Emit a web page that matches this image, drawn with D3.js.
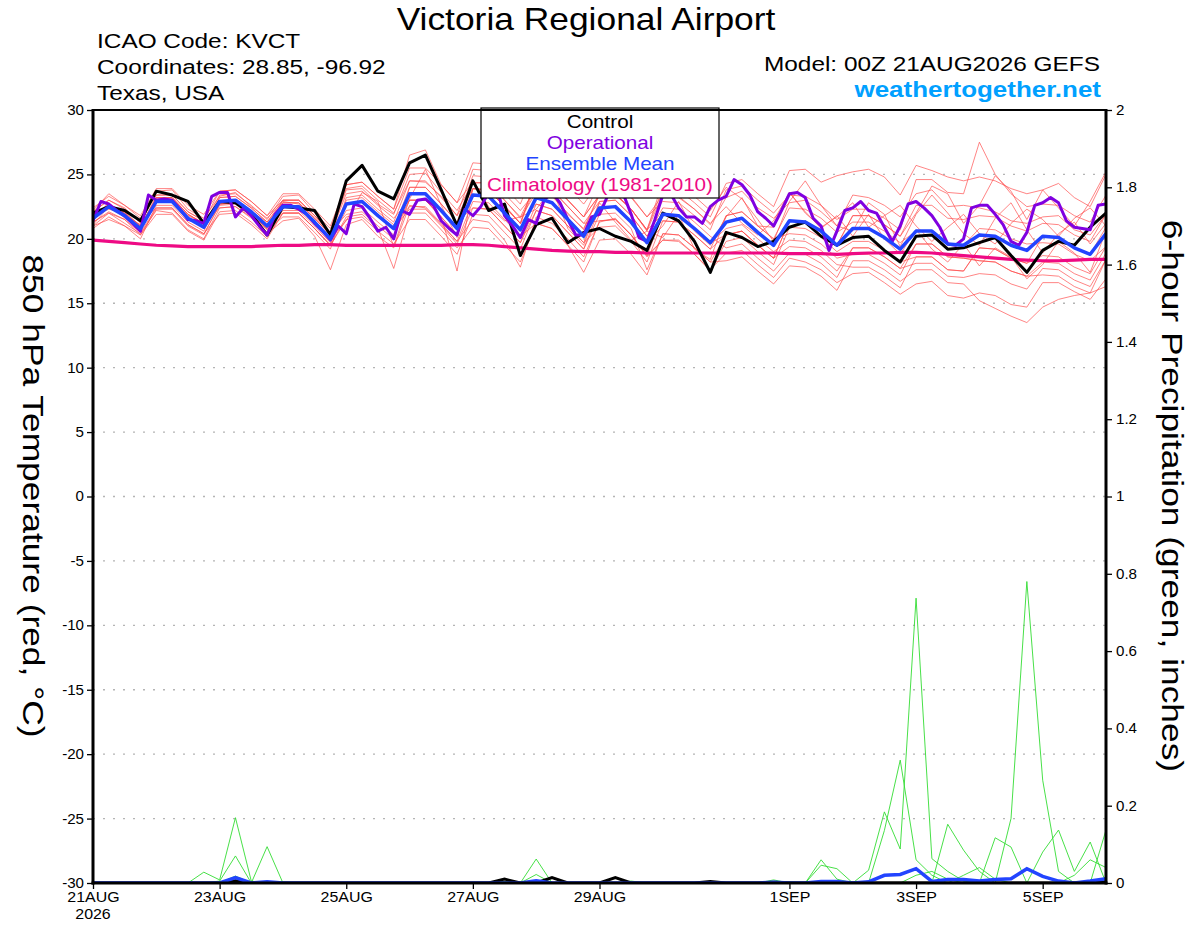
<!DOCTYPE html>
<html><head><meta charset="utf-8">
<script src="https://cdn.jsdelivr.net/npm/d3@7"></script>
<style>
body{margin:0;background:#fff}
svg{display:block}
text{font-family:"Liberation Sans",Arial,Helvetica,sans-serif}
</style>
</head><body>
<svg id="chart" width="1200" height="927"></svg>
<script>
// ---------------- DATA ----------------
const runStart = "2026-08-21T00:00:00Z";
const stepHours6 = d3.range(0, 385, 6);   // 6-hourly ensemble steps (65)
const stepHours3 = d3.range(0, 385, 3);   // 3-hourly operational steps (129)

const tempTicks = [30,25,20,15,10,5,0,-5,-10,-15,-20,-25,-30];
const tempTickLabels = ["30","25","20","15","10","5","0","-5","-10","-15","-20","-25","-30"];
const precipTicks = [2,1.8,1.6,1.4,1.2,1,0.8,0.6,0.4,0.2,0];
const precipTickLabels = ["2","1.8","1.6","1.4","1.2","1","0.8","0.6","0.4","0.2","0"];
const dateTicks = ["2026-08-21","2026-08-23","2026-08-25","2026-08-27","2026-08-29","2026-09-01","2026-09-03","2026-09-05"];
const dateTickLabels = ["21AUG","23AUG","25AUG","27AUG","29AUG","1SEP","3SEP","5SEP"];

const legendLabels = ["Control","Operational","Ensemble Mean","Climatology (1981-2010)"];

// Control (black) 850 hPa temperature
const controlTemp = [22.0,22.5,22.2,21.4, 23.7,23.4,22.9,21.2, 22.9,22.8,21.9,20.3, 22.5,22.4,22.2,20.3,
  24.5,25.7,23.7,23.1, 25.9,26.5,23.8,21.0, 24.5,22.2,22.7,18.7, 21.1,21.6,19.7,20.5,
  20.8,20.2,19.8,19.1, 22.0,21.4,19.8,17.4, 20.5,20.1,19.4,19.8, 20.9,21.3,20.2,19.5,
  20.1,20.2,19.1,18.2, 20.2,20.3,19.2,19.3, 19.7,20.1,18.7,17.4, 19.1,19.8,19.5,20.9, 22.0];

// Operational (purple), 3-hourly
const operationalTemp = [21.4,22.9,22.7,22.2,21.8,21.2,20.6,23.4,23.0,23.1,23.0,22.3,21.5,21.4,21.2,23.3,
  23.6,23.6,21.7,22.4,21.8,21.0,20.3,21.9,22.6,22.6,22.3,21.9,21.2,20.6,19.9,21.0,
  20.4,22.7,22.5,21.6,20.6,20.9,20.0,22.2,21.9,23.0,23.1,22.6,21.4,20.8,20.3,22.3,
  21.8,22.5,23.6,24.0,21.8,21.0,20.1,21.5,21.2,23.0,23.6,22.8,21.5,20.3,20.3,21.7,
  21.9,23.3,24.0,23.5,21.9,20.1,19.8,21.5,23.4,23.5,22.4,21.7,21.7,21.2,22.5,23.0,
  23.3,24.6,24.2,23.4,22.1,21.6,21.0,22.2,23.5,23.6,23.2,21.6,21.0,19.1,20.6,22.2,
  22.4,22.9,22.2,22.0,20.9,19.8,21.0,22.7,22.9,22.4,21.8,20.9,19.6,19.5,20.0,22.4,
  22.6,22.6,21.9,21.1,19.8,19.5,20.5,22.6,22.8,23.2,22.8,21.4,20.9,20.8,20.7,22.6, 22.7];

// Ensemble mean (blue)
const meanTemp = [21.6,22.5,21.8,20.8, 22.9,22.9,21.6,20.9, 22.9,23.0,22.1,21.0, 22.5,22.5,21.3,20.0,
  22.7,22.9,21.8,20.8, 23.5,23.5,22.2,20.8, 23.4,23.3,22.0,20.7, 23.2,22.8,21.5,20.2,
  22.4,22.5,21.3,19.7, 21.9,21.8,20.8,19.7, 21.3,21.6,20.5,19.5, 21.4,21.3,20.6,19.5,
  20.8,20.8,20.1,19.2, 20.6,20.6,19.6,19.5, 20.3,20.2,19.5,19.1, 20.2,20.1,19.3,18.8, 20.4];

// Climatology 1981-2010 (pink)
const climoTemp = [19.9,19.8,19.7,19.6, 19.5,19.45,19.4,19.4, 19.4,19.4,19.4,19.45, 19.5,19.5,19.55,19.55,
  19.5,19.5,19.5,19.5, 19.5,19.5,19.5,19.55, 19.55,19.5,19.4,19.3, 19.2,19.1,19.05,19.0,
  19.0,18.95,18.95,18.9, 18.9,18.9,18.9,18.9, 18.9,18.9,18.9,18.9, 18.85,18.85,18.85,18.8,
  18.85,18.9,18.9,18.95, 18.95,18.9,18.8,18.7, 18.6,18.5,18.4,18.35, 18.3,18.3,18.35,18.4, 18.4];

// Ensemble members (thin red)
const member01 = [22.1,23.0,22.4,21.2, 23.7,23.8,22.3,21.6, 23.3,23.6,22.5,21.6, 22.9,22.7,21.6,20.4, 23.8,23.9,22.7,21.9, 25.0,25.1,23.6,22.2, 24.3,24.4,23.0,21.6, 23.6,23.4,21.9,20.8, 23.5,23.4,22.3,20.6, 23.5,23.2,22.3,21.1, 23.2,23.7,22.4,21.6, 22.8,23.0,22.1,21.0, 23.4,23.2,22.6,21.7, 23.5,23.8,22.5,22.6, 22.4,22.1,21.4,21.2, 21.7,21.8,20.7,20.3, 21.9];
const member02 = [21.0,22.0,21.2,20.4, 22.2,22.0,20.7,20.0, 22.4,22.5,21.7,20.4, 21.4,21.6,20.2,17.6, 21.1,21.5,20.2,19.3, 22.6,22.4,21.1,19.8, 21.5,21.3,19.9,17.8, 21.7,21.2,20.0,18.6, 21.3,21.6,20.3,18.6, 19.9,19.9,18.8,17.6, 18.9,19.1,18.0,17.0, 18.5,18.2,17.6,16.6, 17.3,17.4,16.6,15.7, 16.5,16.7,15.6,15.4, 15.8,15.6,14.9,14.7, 16.6,16.6,15.9,15.3, 16.9];
const member03 = [21.9,22.4,22.1,21.0, 22.9,23.0,21.6,21.0, 23.4,23.5,22.6,21.5, 23.3,23.4,22.0,20.8, 23.9,24.1,23.0,22.0, 24.5,24.4,23.3,21.8, 23.9,23.7,22.6,21.2, 24.7,24.2,23.0,21.7, 24.4,24.5,23.2,21.7, 23.4,23.3,22.3,21.2, 22.5,21.2,20.3,21.4, 23.6,22.0,20.9,21.7, 22.8,20.9,21.8,22.6, 21.0,19.8,20.9,21.9, 20.4,19.6,21.2,22.3, 21.5,20.2,21.6,22.4, 21.0];
const member04 = [21.3,22.1,21.5,20.5, 22.4,22.4,21.1,20.4, 21.9,22.0,21.1,20.0, 22.0,22.0,20.8,19.5, 21.5,21.7,20.6,19.6, 21.5,21.5,20.2,18.8, 21.9,21.8,20.5,19.2, 22.2,21.8,20.5,19.2, 21.9,22.0,20.8,17.6, 20.4,20.3,19.3,18.2, 20.3,20.6,19.5,18.5, 19.4,19.3,18.6,17.5, 19.3,19.3,18.6,17.7, 18.1,18.1,17.1,17.0, 17.3,17.2,16.5,16.1, 17.7,17.6,16.8,16.3, 18.4];
const member05 = [22.4,23.3,22.6,21.6, 23.4,23.4,22.1,21.4, 22.9,23.0,22.1,21.0, 22.0,22.0,20.8,19.5, 23.2,23.4,22.3,21.3, 24.5,24.5,23.2,21.8, 25.4,25.3,24.0,22.7, 25.7,25.3,24.0,22.7, 24.4,24.5,23.3,21.7, 22.9,22.8,21.8,20.7, 23.8,24.1,23.0,22.0, 23.4,23.3,22.6,21.5, 22.3,22.3,21.6,20.7, 24.6,24.6,23.6,23.5, 27.5,25.0,23.5,22.5, 22.7,22.6,21.8,21.3, 23.4];
const member06 = [20.8,21.7,21.0,20.0, 22.6,22.6,21.3,20.6, 23.2,23.3,22.4,21.3, 22.5,22.5,21.3,20.0, 22.2,22.4,21.3,20.3, 23.0,23.0,21.7,17.5, 23.9,23.8,22.5,21.2, 22.7,22.3,21.0,19.7, 20.9,21.0,19.8,18.2, 21.4,21.3,20.3,19.2, 21.8,22.1,21.0,20.0, 20.4,20.3,19.6,18.5, 18.8,18.8,18.1,17.2, 19.6,19.6,18.6,18.5, 18.3,18.2,17.5,17.1, 17.2,17.1,16.3,15.8, 18.4];
const member07 = [21.6,22.5,21.8,20.8, 23.4,23.4,22.1,21.4, 23.7,23.8,22.9,21.8, 23.0,23.0,21.8,20.5, 21.9,22.1,21.0,20.0, 24.0,24.0,22.7,21.3, 24.9,24.8,23.5,22.2, 23.7,23.3,22.0,20.7, 23.4,23.5,22.3,20.7, 24.4,24.3,23.3,22.2, 24.0,23.1,21.5,19.8, 22.9,24.5,22.6,21.0, 20.6,22.8,21.9,19.4, 21.9,23.4,22.0,20.4, 19.5,21.6,22.8,20.7, 18.9,20.4,21.3,19.6, 21.2];
const member08 = [22.1,23.0,22.3,21.3, 22.4,22.4,21.1,20.4, 22.6,22.7,21.8,20.7, 21.7,21.7,20.5,19.2, 23.0,23.2,22.1,21.1, 22.5,22.5,21.2,19.8, 22.9,22.8,21.5,20.2, 21.2,20.8,19.5,17.4, 19.9,20.0,18.8,17.2, 20.4,20.3,19.3,18.2, 18.3,18.6,17.5,16.5, 17.9,17.8,17.1,16.0, 18.3,18.3,17.6,16.7, 17.6,17.6,16.6,16.5, 15.2,14.6,14.0,13.5, 14.7,15.3,15.6,15.8, 16.3];
const member09 = [21.1,22.5,22.0,21.0, 22.9,22.9,21.6,20.9, 23.2,23.3,22.4,21.3, 23.0,23.0,21.8,20.5, 24.2,24.4,23.3,22.3, 25.5,25.5,24.2,22.8, 24.4,24.3,23.0,21.7, 24.2,23.8,22.5,21.2, 22.9,23.0,21.8,20.2, 21.4,21.3,20.3,19.2, 20.3,20.6,19.5,18.5, 21.4,21.3,20.6,19.5, 21.8,21.8,21.1,20.2, 22.6,22.6,21.6,21.5, 21.8,21.7,21.0,20.6, 21.2,21.1,20.3,19.8, 21.9];
const member10 = [21.8,22.7,22.0,21.0, 23.2,23.2,21.9,21.2, 22.4,22.5,21.6,20.5, 22.2,22.2,21.0,19.7, 22.7,22.9,21.8,20.8, 24.0,24.0,22.7,21.3, 22.4,22.3,21.0,19.7, 22.2,21.8,20.5,19.2, 22.4,22.5,21.3,19.7, 21.0,22.9,20.6,19.5, 21.7,23.2,21.0,20.9, 23.6,22.1,20.8,21.8, 20.2,21.9,20.0,18.8, 20.7,19.2,18.2,19.6, 17.9,19.3,18.6,16.9, 18.0,19.8,18.9,17.4, 20.6];
const member11 = [21.4,22.7,21.8,21.1, 23.1,23.1,21.8,21.2, 22.9,23.0,22.1,21.3, 22.8,22.8,21.6,20.3, 23.5,23.7,22.6,21.6, 23.0,23.0,21.7,20.3, 23.9,23.8,22.5,21.2, 24.2,23.8,22.5,21.2, 21.4,21.5,20.3,18.7, 19.9,19.8,18.8,17.5, 19.8,20.1,19.0,18.0, 20.9,20.8,20.1,19.0, 19.8,19.8,19.1,18.2, 18.6,18.6,17.6,17.5, 19.3,19.2,18.5,18.1, 20.2,20.1,19.3,18.8, 20.9];
const member12 = [22.2,23.5,22.6,21.8, 23.9,23.9,22.6,21.9, 23.7,23.8,22.9,21.8, 23.5,23.5,22.3,21.0, 24.2,24.4,23.3,22.3, 26.5,26.9,24.2,22.8, 25.9,25.8,24.5,23.2, 24.7,24.3,23.0,21.7, 23.4,23.5,22.3,20.7, 23.9,23.8,22.8,21.7, 24.3,24.6,23.5,22.5, 25.3,25.4,24.4,24.9, 25.2,25.4,24.8,23.4, 25.7,25.3,24.8,24.5, 24.8,24.5,23.9,23.5, 23.8,24.3,23.2,22.5, 25.0];
const member13 = [21.0,21.5,21.0,20.3, 21.9,21.9,20.6,19.9, 22.1,22.2,21.3,20.2, 22.0,22.0,20.8,19.5, 21.7,21.9,20.8,17.7, 22.0,22.0,20.7,19.3, 20.9,20.8,19.5,18.2, 21.2,20.8,19.5,18.2, 21.4,21.5,20.3,18.7, 21.9,21.8,20.8,19.7, 20.8,21.1,20.0,19.0, 19.9,19.8,19.1,18.0, 17.8,17.8,17.1,16.2, 18.6,18.6,17.6,17.5, 19.3,19.2,18.5,18.1, 18.7,18.6,17.8,17.3, 19.4];
const member14 = [21.7,22.3,22.0,20.6, 23.2,23.2,21.9,21.2, 22.7,22.8,21.9,20.8, 22.8,22.8,21.6,20.3, 22.7,22.9,21.8,20.8, 23.0,23.0,21.7,20.3, 23.9,23.8,22.5,21.2, 24.7,24.3,23.0,21.7, 23.4,23.5,22.3,20.7, 21.9,21.8,20.8,19.7, 20.3,20.6,19.5,18.5, 21.4,21.3,20.6,19.5, 21.8,21.8,21.1,20.2, 22.0,24.1,23.5,21.2, 22.6,24.9,23.7,21.5, 23.8,22.4,21.0,22.9, 25.2];
const member15 = [21.6,22.8,21.6,20.8, 23.2,23.2,21.9,21.2, 22.7,22.8,21.9,20.8, 22.5,22.5,21.3,20.0, 21.4,23.6,22.9,19.4, 23.1,25.4,22.6,20.1, 24.6,22.5,21.4,21.7, 22.3,23.9,20.8,19.5, 22.8,21.3,19.9,20.6, 20.1,21.9,19.2,18.4, 21.8,22.1,21.0,20.0, 22.4,22.3,21.6,20.5, 21.3,21.3,20.6,19.7, 20.6,20.6,19.6,19.5, 20.8,20.7,20.0,19.6, 19.7,19.6,18.8,18.3, 19.4];
const member16 = [21.3,22.0,21.5,20.3, 22.3,22.3,21.0,20.3, 22.7,22.8,21.9,20.8, 23.0,23.0,21.8,20.5, 22.7,22.9,21.8,20.8, 22.3,22.3,21.0,19.6, 22.4,22.3,21.0,19.7, 22.7,22.3,21.0,19.7, 22.9,23.0,21.8,20.2, 22.4,22.3,21.3,20.2, 19.3,19.6,18.5,17.5, 18.9,18.8,18.1,17.0, 19.3,19.3,18.6,17.7, 19.6,19.6,18.6,18.5, 18.3,18.2,17.5,17.1, 18.2,18.1,17.3,16.8, 18.9];
const memberTemps = [member01,member02,member03,member04,member05,member06,member07,member08,
  member09,member10,member11,member12,member13,member14,member15,member16];

// 6-hour precipitation (inches): members (green), control (black), mean (blue)
const precipMember1 = [0,0,0,0,0, 0,0,0.028,0.008,0.169, 0.005,0,0,0,0, 0,0,0,0,0, 0,0,0,0,0, 0,0,0,0,0, 0,0,0,0,0, 0,0,0,0,0, 0,0,0,0,0, 0,0,0,0,0.033, 0.184,0.088,0.737,0.063,0.03, 0.005,0,0,0,0, 0,0,0,0,0];
const precipMember2 = [0,0,0,0,0, 0,0,0,0.005,0.07, 0,0.094,0,0,0, 0,0,0,0,0, 0,0,0,0,0, 0,0,0,0,0, 0,0,0,0,0, 0,0,0,0,0, 0,0,0,0,0, 0,0,0,0,0, 0.136,0.318,0.06,0.02,0, 0,0,0,0,0, 0,0,0,0,0];
const precipMember3 = [0,0,0,0,0, 0,0,0,0,0.018, 0,0,0,0,0, 0,0,0,0,0, 0,0,0,0,0, 0,0,0,0.062,0, 0,0,0,0,0, 0,0,0,0,0, 0,0,0,0,0, 0,0.06,0.01,0,0, 0,0,0,0,0.152, 0.085,0.03,0,0,0, 0,0,0,0,0];
const precipMember4 = [0,0,0,0,0, 0,0,0,0,0, 0,0,0,0,0, 0,0,0,0,0, 0,0,0,0,0, 0,0,0,0.022,0, 0,0,0,0,0, 0,0,0,0,0, 0,0,0,0,0, 0,0.046,0.037,0,0, 0,0,0,0,0, 0,0,0.117,0.093,0, 0.08,0.137,0.03,0.106,0];
const precipMember5 = [0,0,0,0,0, 0,0,0,0,0, 0,0,0,0,0, 0,0,0,0,0, 0,0,0,0,0, 0,0,0,0,0, 0,0,0,0,0, 0,0,0,0,0, 0,0,0,0.008,0, 0,0,0,0,0, 0,0,0,0,0, 0,0,0,0.167,0.78, 0.266,0.03,0,0,0.137];
const precipMember6 = [0,0,0,0,0, 0,0,0,0,0, 0,0,0,0,0, 0,0,0,0,0, 0,0,0,0,0, 0,0,0,0,0, 0,0,0,0,0.005, 0,0,0,0,0, 0,0,0,0,0, 0,0,0,0,0, 0,0,0,0,0, 0.02,0.04,0.01,0,0, 0,0,0.02,0.06,0.04];
const precipMember7 = [0,0,0,0,0, 0,0,0,0,0, 0,0,0.003,0,0, 0,0,0,0,0, 0,0,0,0,0, 0,0.004,0,0,0, 0,0,0,0,0, 0,0,0,0,0, 0,0,0,0,0.003, 0,0,0,0,0, 0,0,0.02,0.03,0.01, 0,0,0,0,0, 0,0,0,0,0];
const precipMembers = [precipMember1,precipMember2,precipMember3,precipMember4,precipMember5,precipMember6,precipMember7];
const controlPrecip = [0,0,0,0,0, 0,0,0,0,0.006, 0,0,0,0,0, 0,0,0,0,0, 0,0,0,0,0, 0,0.01,0,0,0.014, 0,0,0,0.014,0, 0,0,0,0,0.004, 0,0,0,0.002,0, 0,0,0,0,0, 0,0,0,0,0, 0,0,0,0,0, 0,0,0,0,0.003];
const meanPrecip = [0,0,0,0,0, 0,0,0,0,0.014, 0,0.003,0,0,0, 0,0,0,0,0, 0,0,0,0,0, 0,0,0,0.006,0, 0,0,0,0,0, 0,0,0,0,0, 0,0,0,0.002,0, 0,0.004,0.004,0,0.003, 0.02,0.022,0.037,0.004,0.009, 0.009,0.005,0.009,0.011,0.037, 0.017,0.005,0,0.005,0.011];

// ---------------- CHART ----------------
const svg = d3.select("#chart");
const L = 93, R = 1106, T = 110, B = 883;
const t0 = new Date(runStart).getTime();
const times6 = stepHours6.map(h => new Date(t0 + h * 3600e3));
const times3 = stepHours3.map(h => new Date(t0 + h * 3600e3));

const x = d3.scaleUtc().domain([new Date(t0), new Date(t0 + 384 * 3600e3)]).range([L, R]);
const yT = d3.scaleLinear().domain([-30, 30]).range([B, T]);
const yP = d3.scaleLinear().domain([0, 2]).range([B, T]);

// text helper: the reference typeface is horizontally wider than Liberation Sans
function wideText(parent, tx, ty, str, size, stretch, anchor, extra) {
  const g = parent.append("g").attr("transform", `translate(${tx},${ty})${extra||""} scale(${stretch},1)`);
  return g.append("text").attr("text-anchor", anchor || "start").attr("font-size", size).text(str);
}

svg.append("rect").attr("width",1200).attr("height",927).attr("fill","#fff");
svg.append("defs").append("clipPath").attr("id","plot").append("rect")
  .attr("x",L).attr("y",T).attr("width",R-L).attr("height",B-T);

// grid
svg.append("g").selectAll("line").data(tempTicks.filter(v => v > -30 && v < 30)).join("line")
  .attr("x1", L).attr("x2", R).attr("y1", d => yT(d)).attr("y2", d => yT(d))
  .attr("stroke", "#b4b4b4").attr("stroke-width", 1.4).attr("stroke-dasharray", "2,8");

const plot = svg.append("g").attr("clip-path","url(#plot)");
const lineT6 = d3.line().x((d,i) => x(times6[i])).y(d => yT(d));
const lineT3 = d3.line().x((d,i) => x(times3[i])).y(d => yT(d));
const lineP6 = d3.line().x((d,i) => x(times6[i])).y(d => yP(d));

plot.append("g").selectAll("path").data(memberTemps).join("path")
  .attr("d", lineT6).attr("fill","none").attr("stroke","#ff4a4a").attr("stroke-opacity",0.8).attr("stroke-width",0.85);
plot.append("g").selectAll("path").data(precipMembers).join("path")
  .attr("d", lineP6).attr("fill","none").attr("stroke","#33dd33").attr("stroke-width",0.9);

plot.append("path").datum(climoTemp).attr("d", lineT6).attr("fill","none")
  .attr("stroke","#ee0a84").attr("stroke-width",3.2);
plot.append("path").datum(controlTemp).attr("d", lineT6).attr("fill","none")
  .attr("stroke","#000").attr("stroke-width",3).attr("stroke-linejoin","round");
plot.append("path").datum(operationalTemp).attr("d", lineT3).attr("fill","none")
  .attr("stroke","#8000e0").attr("stroke-width",3).attr("stroke-linejoin","round");
plot.append("path").datum(meanTemp).attr("d", lineT6).attr("fill","none")
  .attr("stroke","#2244ff").attr("stroke-width",3.5).attr("stroke-linejoin","round");

plot.append("path").datum(controlPrecip).attr("d", lineP6).attr("fill","none")
  .attr("stroke","#000").attr("stroke-width",3);
plot.append("path").datum(meanPrecip).attr("d", lineP6).attr("fill","none")
  .attr("stroke","#2244ff").attr("stroke-width",3.5);

// legend
const lg = svg.append("g");
lg.append("rect").attr("x",481).attr("y",108).attr("width",238).attr("height",90)
  .attr("fill","#fff").attr("stroke","#000").attr("stroke-width",1.2);
const legendColors = ["#000","#8000e0","#2244ff","#ee0a84"];
legendLabels.forEach((s,i) => {
  wideText(lg, 600, 128 + i*21, s, 17.5, 1.18, "middle").attr("fill", legendColors[i]);
});

// axes
const axL = svg.append("g").attr("transform",`translate(${L},0)`)
  .call(d3.axisLeft(yT).tickValues(tempTicks).tickSize(6).tickSizeOuter(0).tickPadding(3)
    .tickFormat((d,i)=>tempTickLabels[i]));
const axR = svg.append("g").attr("transform",`translate(${R},0)`)
  .call(d3.axisRight(yP).tickValues(precipTicks).tickSize(6).tickSizeOuter(0).tickPadding(4)
    .tickFormat((d,i)=>precipTickLabels[i]));
const axB = svg.append("g").attr("transform",`translate(0,${B})`)
  .call(d3.axisBottom(x).tickValues(dateTicks.map(s=>new Date(s+"T00:00:00Z"))).tickSize(6).tickSizeOuter(0).tickPadding(3)
    .tickFormat((d,i)=>dateTickLabels[i]));
[axL,axR,axB].forEach(a=>{
  a.select(".domain").remove();
  a.selectAll(".tick line").attr("stroke","#000").attr("stroke-width",1.3);
  a.selectAll(".tick text").attr("font-family",'"Liberation Sans",Arial,sans-serif')
    .attr("font-size",14).attr("fill","#000");
});
axL.selectAll(".tick text").attr("x",0).attr("transform","translate(-9,0) scale(1.08,1)");
axR.selectAll(".tick text").attr("x",0).attr("transform","translate(10,0) scale(1.08,1)");
axB.selectAll(".tick text").attr("transform","scale(1.14,1)");
axB.append("g").attr("transform",`translate(${x(new Date(dateTicks[0]+"T00:00:00Z"))},36) scale(1.14,1)`)
  .append("text").attr("text-anchor","middle").attr("font-size",14).attr("fill","#000").text("2026");

// frame
svg.append("line").attr("x1",L).attr("x2",R).attr("y1",T).attr("y2",T).attr("stroke","#000").attr("stroke-width",2);
svg.append("line").attr("x1",L).attr("x2",L).attr("y1",T-1).attr("y2",B+1.5).attr("stroke","#000").attr("stroke-width",3);
svg.append("line").attr("x1",R).attr("x2",R).attr("y1",T-1).attr("y2",B+1.5).attr("stroke","#000").attr("stroke-width",3);
svg.append("line").attr("x1",L-1.5).attr("x2",R+1.5).attr("y1",B).attr("y2",B).attr("stroke","#000").attr("stroke-width",3);

// titles
wideText(svg, 586, 30, "Victoria Regional Airport", 30.5, 1.16, "middle");
const info = ["ICAO Code: KVCT","Coordinates: 28.85, -96.92","Texas, USA"];
info.forEach((s,i) => wideText(svg, 97, 48 + i*26, s, 20.5, 1.19, "start"));
wideText(svg, 1100, 71, "Model: 00Z 21AUG2026 GEFS", 20.5, 1.19, "end");
wideText(svg, 1101, 97, "weathertogether.net", 22, 1.18, "end")
  .attr("font-weight","bold").attr("fill","#00a0ff");

wideText(svg, 33, 496, "850 hPa Temperature (red, °C)", 29, 1.22, "middle", " rotate(90)").attr("dy","0.35em");
wideText(svg, 1172, 496, "6-hour Precipitation (green, inches)", 29, 1.22, "middle", " rotate(90)").attr("dy","0.35em");
</script>
</body></html>
